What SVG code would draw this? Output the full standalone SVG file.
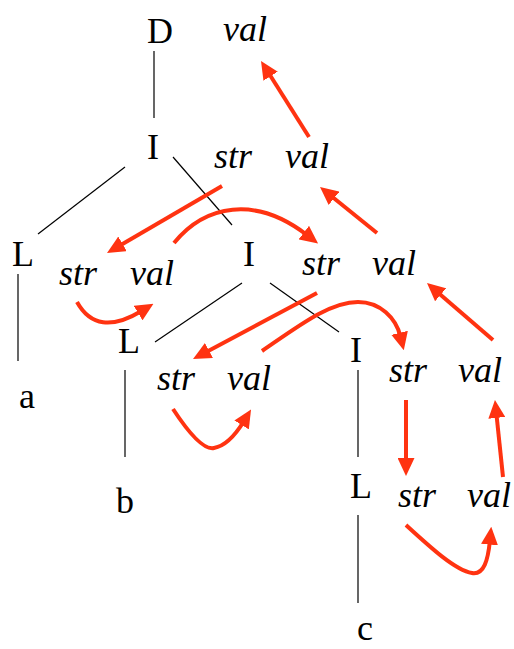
<svg xmlns="http://www.w3.org/2000/svg" width="514" height="649" viewBox="0 0 514 649">
<style>
text{font-family:"Liberation Serif","Times New Roman",serif;font-size:36px;fill:#000}
.n{text-anchor:middle}
.at{font-style:italic}
.edge{stroke:#000;stroke-width:1.2;fill:none}
.flow{stroke:#ff3311;stroke-width:4;fill:none;marker-end:url(#ah)}
</style>
<defs>
<marker id="ah" markerUnits="userSpaceOnUse" markerWidth="18" markerHeight="17" refX="4" refY="8.5" orient="auto" viewBox="0 0 18 17">
<path d="M0,0 L18,8.5 L0,17 z" fill="#ff3311"/>
</marker>
</defs>
<g id="tree-edges">
<line class="edge" x1="154" y1="51" x2="154" y2="118"/>
<line class="edge" x1="125" y1="167" x2="38" y2="234"/>
<line class="edge" x1="173" y1="157" x2="232" y2="225"/>
<line class="edge" x1="18" y1="274" x2="18" y2="361"/>
<line class="edge" x1="242" y1="283" x2="155" y2="342"/>
<line class="edge" x1="270" y1="283" x2="339" y2="332"/>
<line class="edge" x1="125" y1="370" x2="125" y2="457"/>
<line class="edge" x1="358" y1="370" x2="358" y2="457"/>
<line class="edge" x1="358" y1="515" x2="358" y2="603"/>
</g>
<g id="node-D"><text class="n" x="160" y="43">D</text><text class="at" x="223" y="41">val</text></g>
<g id="node-I1"><text class="n" x="153" y="159">I</text><text class="at" x="214" y="168">str</text><text class="at" x="285" y="168">val</text></g>
<g id="node-L1"><text class="n" x="23" y="266">L</text><text class="at" x="59" y="285">str</text><text class="at" x="130" y="285">val</text></g>
<g id="node-I2"><text class="n" x="249" y="266">I</text><text class="at" x="302" y="275">str</text><text class="at" x="372" y="275">val</text></g>
<g id="node-a"><text class="n" x="27" y="408">a</text></g>
<g id="node-L2"><text class="n" x="129" y="353">L</text><text class="at" x="157" y="390">str</text><text class="at" x="227" y="390">val</text></g>
<g id="node-I3"><text class="n" x="356" y="362">I</text><text class="at" x="389" y="382">str</text><text class="at" x="458" y="382">val</text></g>
<g id="node-b"><text class="n" x="125" y="513">b</text></g>
<g id="node-L3"><text class="n" x="361" y="498">L</text><text class="at" x="398" y="507">str</text><text class="at" x="467" y="507">val</text></g>
<g id="node-c"><text class="n" x="365" y="640">c</text></g>
<g id="flow-arrows">
<path class="flow" d="M309,137 L268.5,72.8"/>
<path class="flow" d="M377,233 L330.9,195.8"/>
<path class="flow" d="M222,186 L119.1,245.9"/>
<path class="flow" d="M174,243 C205,205 255,195 307,235"/>
<path class="flow" d="M77,302 Q97,338 141.5,311"/>
<path class="flow" d="M317,293 L205.4,352.4"/>
<path class="flow" d="M262,351 C300,325 330,302 358,302 C380,302 396,318 400.5,336.7"/>
<path class="flow" d="M493,340 L437.6,292.2"/>
<path class="flow" d="M173,409 C192,438 205,450 214,448 C225,446 236,434 243.7,421.5"/>
<path class="flow" d="M406,400 L406,462"/>
<path class="flow" d="M503,477 L496.4,413.9"/>
<path class="flow" d="M406,525 C430,547 455,570 472,573 C484,575 488,560 489.9,540.6"/>
</g>
</svg>
